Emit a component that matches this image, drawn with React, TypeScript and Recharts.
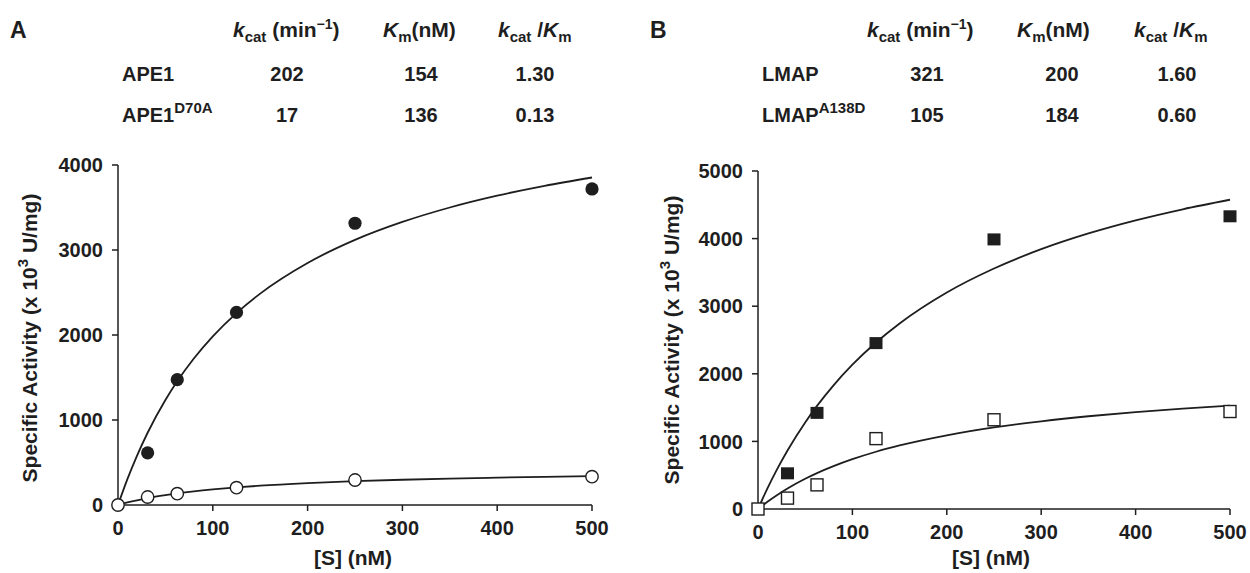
import React from 'react';
import { ComposedChart, Line, Scatter, XAxis, YAxis } from 'recharts';

const FONT = '"Liberation Sans", Arial, Helvetica, sans-serif';
const INK = '#1e1e1e';

// ---- tick labels ----
const xTicks = [0, 100, 200, 300, 400, 500];
const yTicksA = [0, 1000, 2000, 3000, 4000];
const yTicksB = [0, 1000, 2000, 3000, 4000, 5000];

// ---- Panel A: measured points ----
const ape1S = [31.25, 62.5, 125, 250, 500];
const ape1V = [614, 1475, 2266, 3315, 3718];
const ape1MutS = [0, 31.25, 62.5, 125, 250, 500];
const ape1MutV = [0, 94, 133, 204, 294, 333];

// ---- Panel B: measured points ----
const lmapS = [31.25, 62.5, 125, 250, 500];
const lmapV = [528, 1422, 2454, 3988, 4330];
const lmapMutS = [0, 31.25, 62.5, 125, 250, 500];
const lmapMutV = [0, 161, 357, 1041, 1320, 1442];

// ---- fitted curves ----
const fitS = [0, 10, 20, 31.25, 50, 62.5, 80, 100, 125, 150, 200, 250, 300, 350, 400, 450, 500];
const ape1Fit = [0, 307, 579, 850, 1235, 1455, 1723, 1984, 2258, 2487, 2847, 3119, 3330, 3500, 3639, 3755, 3853];
const ape1MutFit = [0, 30, 55, 81, 116, 136, 160, 183, 207, 227, 257, 280, 297, 311, 322, 332, 340];
const lmapFit = [0, 305, 582, 866, 1281, 1525, 1830, 2135, 2463, 2745, 3203, 3558, 3843, 4076, 4270, 4434, 4575];
const lmapMutFit = [0, 108, 205, 304, 447, 531, 634, 737, 847, 940, 1090, 1206, 1297, 1372, 1434, 1486, 1530];

// ---- kinetic table ----
const enzymesA = ['APE1', 'APE1'];
const supA = ['', 'D70A'];
const kcatA = ['202', '17'];
const kmA = ['154', '136'];
const ratioA = ['1.30', '0.13'];

const enzymesB = ['LMAP', 'LMAP'];
const supB = ['', 'A138D'];
const kcatB = ['321', '105'];
const kmB = ['200', '184'];
const ratioB = ['1.60', '0.60'];

const zip = (xs: number[], ys: number[]) => xs.map((x, i) => ({ x, y: ys[i] }));

const tickStyle = { fill: INK, fontSize: 20, fontWeight: 700, fontFamily: FONT };

const FilledCircle = (p: any) => <circle cx={p.cx} cy={p.cy} r={6.6} fill={INK} />;
const OpenCircle = (p: any) => (
  <circle cx={p.cx} cy={p.cy} r={6.2} fill="#fff" stroke={INK} strokeWidth={1.4} />
);
const FilledSquare = (p: any) => <rect x={p.cx - 6.5} y={p.cy - 6} width={13} height={12} fill={INK} />;
const OpenSquare = (p: any) => (
  <rect x={p.cx - 6} y={p.cy - 6} width={12} height={12} fill="#fff" stroke={INK} strokeWidth={1.4} />
);

type PanelProps = {
  left: number;
  width: number;
  margin: { top: number; right: number; bottom: number; left: number };
  yTicks: number[];
  yMax: number;
  fitA: number[];
  fitB: number[];
  ptsA: { x: number; y: number }[];
  ptsB: { x: number; y: number }[];
  ShapeA: any;
  ShapeB: any;
};

function Panel(props: PanelProps) {
  const { left, width, margin, yTicks, yMax, fitA, fitB, ptsA, ptsB, ShapeA, ShapeB } = props;
  return (
    <div style={{ position: 'absolute', left, top: 0 }}>
      <ComposedChart width={width} height={573} margin={margin}>
        <XAxis
          type="number"
          dataKey="x"
          domain={[0, 500]}
          ticks={xTicks}
          height={30}
          tickSize={6}
          tickMargin={10}
          tick={tickStyle}
          axisLine={{ stroke: INK, strokeWidth: 1.5 }}
          tickLine={{ stroke: INK, strokeWidth: 1.5 }}
          interval={0}
        />
        <YAxis
          type="number"
          domain={[0, yMax]}
          ticks={yTicks}
          width={60}
          tickSize={6}
          tickMargin={9}
          tick={tickStyle}
          axisLine={{ stroke: INK, strokeWidth: 1.5 }}
          tickLine={{ stroke: INK, strokeWidth: 1.5 }}
          interval={0}
        />
        <Line
          data={zip(fitS, fitA)}
          dataKey="y"
          type="monotone"
          stroke={INK}
          strokeWidth={1.8}
          dot={false}
          activeDot={false}
          isAnimationActive={false}
        />
        <Line
          data={zip(fitS, fitB)}
          dataKey="y"
          type="monotone"
          stroke={INK}
          strokeWidth={1.8}
          dot={false}
          activeDot={false}
          isAnimationActive={false}
        />
        <Scatter data={ptsA} dataKey="y" shape={ShapeA} isAnimationActive={false} />
        <Scatter data={ptsB} dataKey="y" shape={ShapeB} isAnimationActive={false} />
      </ComposedChart>
    </div>
  );
}

const txt = { fontFamily: FONT, fontWeight: 700, fontSize: 20, fill: INK };
const hdr = { ...txt, fontSize: 21 };

function Header(props: { xk: number; xkm: number; xr: number }) {
  const { xk, xkm, xr } = props;
  return (
    <g style={hdr as any}>
      <text x={xk} y={37}>
        <tspan fontStyle="italic">k</tspan>
        <tspan fontSize={15} dy={5}>cat</tspan>
        <tspan dy={-5}>{' (min'}</tspan>
        <tspan fontSize={14} dy={-8}>{'\u22121'}</tspan>
        <tspan dy={8}>)</tspan>
      </text>
      <text x={xkm} y={37}>
        <tspan fontStyle="italic">K</tspan>
        <tspan fontSize={15} dy={5}>m</tspan>
        <tspan dy={-5}>(nM)</tspan>
      </text>
      <text x={xr} y={37}>
        <tspan fontStyle="italic">k</tspan>
        <tspan fontSize={15} dy={5}>cat</tspan>
        <tspan dy={-5}>{' /'}</tspan>
        <tspan fontStyle="italic">K</tspan>
        <tspan fontSize={15} dy={5}>m</tspan>
      </text>
    </g>
  );
}

function Rows(props: {
  names: string[];
  sups: string[];
  c1: string[];
  c2: string[];
  c3: string[];
  xName: number;
  x1: number;
  x2: number;
  x3: number;
}) {
  const { names, sups, c1, c2, c3, xName, x1, x2, x3 } = props;
  const ys = [81, 122];
  return (
    <g style={txt as any}>
      {names.map((n, i) => (
        <g key={i}>
          <text x={xName} y={ys[i]}>
            <tspan>{n}</tspan>
            {sups[i] ? (
              <tspan fontSize={15} dy={-9}>
                {sups[i]}
              </tspan>
            ) : null}
          </text>
          <text x={x1} y={ys[i]} textAnchor="middle">{c1[i]}</text>
          <text x={x2} y={ys[i]} textAnchor="middle">{c2[i]}</text>
          <text x={x3} y={ys[i]} textAnchor="middle">{c3[i]}</text>
        </g>
      ))}
    </g>
  );
}

function YTitle(props: { cx: number; cy: number }) {
  const { cx, cy } = props;
  return (
    <text
      x={cx}
      y={cy}
      transform={`rotate(-90 ${cx} ${cy})`}
      textAnchor="middle"
      dominantBaseline="middle"
      style={{ ...txt, fontSize: 21 } as any}
    >
      <tspan>Specific Activity (x 10</tspan>
      <tspan fontSize={15} dy={-7}>3</tspan>
      <tspan dy={7}>{' U/mg)'}</tspan>
    </text>
  );
}

export default function App() {
  return (
    <div style={{ position: 'absolute', left: 0, top: 0, width: 1250, height: 573, background: '#fff', overflow: 'hidden' }}>
      <Panel
        left={0}
        width={625}
        margin={{ top: 165, right: 33, bottom: 38, left: 58 }}
        yTicks={yTicksA}
        yMax={4000}
        fitA={ape1Fit}
        fitB={ape1MutFit}
        ptsA={zip(ape1S, ape1V)}
        ptsB={zip(ape1MutS, ape1MutV)}
        ShapeA={FilledCircle}
        ShapeB={OpenCircle}
      />
      <Panel
        left={625}
        width={625}
        margin={{ top: 171, right: 20, bottom: 34, left: 73 }}
        yTicks={yTicksB}
        yMax={5000}
        fitA={lmapFit}
        fitB={lmapMutFit}
        ptsA={zip(lmapS, lmapV)}
        ptsB={zip(lmapMutS, lmapMutV)}
        ShapeA={FilledSquare}
        ShapeB={OpenSquare}
      />
      <svg width={1250} height={573} style={{ position: 'absolute', left: 0, top: 0, pointerEvents: 'none' }}>
        <text x={10} y={38} style={{ ...txt, fontSize: 23 } as any}>A</text>
        <text x={650} y={38} style={{ ...txt, fontSize: 23 } as any}>B</text>
        <Header xk={233} xkm={383} xr={498} />
        <Header xk={867} xkm={1017} xr={1134} />
        <Rows names={enzymesA} sups={supA} c1={kcatA} c2={kmA} c3={ratioA} xName={122} x1={287} x2={421} x3={535} />
        <Rows names={enzymesB} sups={supB} c1={kcatB} c2={kmB} c3={ratioB} xName={762} x1={927} x2={1062} x3={1177} />
        <YTitle cx={31} cy={338} />
        <YTitle cx={673} cy={340} />
        <text x={353} y={565} textAnchor="middle" style={{ ...txt, fontSize: 21 } as any}>[S] (nM)</text>
        <text x={991} y={565} textAnchor="middle" style={{ ...txt, fontSize: 21 } as any}>[S] (nM)</text>
      </svg>
    </div>
  );
}
